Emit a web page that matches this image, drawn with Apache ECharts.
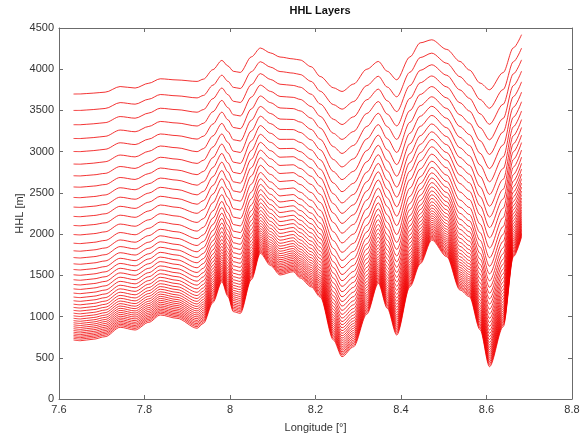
<!DOCTYPE html>
<html>
<head>
<meta charset="utf-8">
<script src="https://cdn.jsdelivr.net/npm/echarts@6/dist/echarts.min.js"></script>
<style>
  html, body { margin: 0; padding: 0; background: #fff; }
  #main { width: 584px; height: 434px; }
</style>
</head>
<body>
<div id="main"></div>
<script>
/* 数据: 经度网格, 地形 (最低层), 最高层, 以及左端各层高度 */
var lon = [7.634, 7.650, 7.680, 7.708, 7.743, 7.778, 7.810, 7.837, 7.876, 7.923,
    7.938, 7.960, 7.981, 7.995, 8.008, 8.024, 8.050, 8.071, 8.095, 8.117,
    8.148, 8.164, 8.190, 8.211, 8.242, 8.262, 8.289, 8.320, 8.347, 8.368,
    8.390, 8.421, 8.445, 8.472, 8.507, 8.538, 8.560, 8.585, 8.607, 8.639,
    8.663, 8.682];
var terrain = [716, 707, 725, 756, 870, 837, 930, 1019, 979, 858,
    918, 1170, 1423, 1245, 1059, 1039, 1448, 1767, 1618, 1504,
    1544, 1468, 1360, 1237, 716, 513, 634, 1030, 1403, 1100,
    776, 1362, 1640, 1929, 1726, 1322, 1241, 840, 392, 877,
    1726, 1969];
var topLayer = [3699, 3700, 3710, 3722, 3790, 3772, 3830, 3884, 3870, 3852,
    3880, 3995, 4107, 4040, 3975, 3961, 4150, 4257, 4197, 4148,
    4125, 4112, 4030, 3912, 3775, 3730, 3820, 4000, 4094, 3975,
    3872, 4150, 4320, 4357, 4240, 4094, 3990, 3832, 3751, 3960,
    4260, 4419];
// 第一个经度处各层的高度 (自下而上)
var levelsLeft = [716, 735, 753, 771, 790, 810, 831, 853, 876, 900,
    925, 951, 979, 1009, 1041, 1075, 1111, 1150, 1192, 1237,
    1285, 1336, 1390, 1447, 1507, 1571, 1640, 1716, 1798, 1890,
    1995, 2105, 2215, 2328, 2445, 2572, 2708, 2850, 3002, 3160,
    3327, 3500, 3699];

var xTicks = [7.6, 8.8, 0.2];
var yTicks = [0, 4500, 500];

var chartDom = document.getElementById('main');
var myChart = echarts.init(chartDom, null, { renderer: 'canvas' });

// 每一层: 在地形和最高层之间按左端高度比例排列
var lo = levelsLeft[0];
var hi = levelsLeft[levelsLeft.length - 1];
var series = levelsLeft.map(function (h) {
    var f = (h - lo) / (hi - lo);
    return {
        type: 'line',
        data: lon.map(function (x, i) {
            return [x, terrain[i] + f * (topLayer[i] - terrain[i])];
        }),
        symbol: 'none',
        smooth: 0.3,
        smoothMonotone: 'x',
        silent: true,
        animation: false,
        lineStyle: { color: '#f00000', width: 0.8 }
    };
});

var axisColor = '#6b6b6b';
var labelStyle = { color: '#333', fontSize: 11, fontFamily: 'Liberation Sans, Arial' };

var option = {
    backgroundColor: '#ffffff',
    animation: false,
    title: {
        text: 'HHL Layers',
        left: 315,
        top: 0,
        textAlign: 'center',
        textStyle: { fontSize: 11, fontWeight: 'bold', color: '#111', fontFamily: 'Liberation Sans, Arial' }
    },
    grid: { left: 59, right: 12, top: 28, bottom: 35, containLabel: false, outerBoundsMode: 'none' },
    xAxis: [{
        type: 'value',
        min: xTicks[0], max: xTicks[1], interval: xTicks[2],
        name: 'Longitude [°]',
        nameLocation: 'middle',
        nameGap: 23,
        nameMoveOverlap: false,
        nameTextStyle: labelStyle,
        axisLine: { onZero: false, lineStyle: { color: axisColor, width: 1 } },
        axisTick: { inside: true, length: 4, lineStyle: { color: axisColor } },
        axisLabel: Object.assign({ margin: 5, formatter: function (v) { return +v.toFixed(1); } }, labelStyle),
        splitLine: { show: false }
    }, {
        type: 'value',
        position: 'top',
        min: xTicks[0], max: xTicks[1], interval: xTicks[2],
        axisLine: { onZero: false, lineStyle: { color: axisColor, width: 1 } },
        axisTick: { inside: true, length: 4, lineStyle: { color: axisColor } },
        axisLabel: { show: false },
        splitLine: { show: false }
    }],
    yAxis: [{
        type: 'value',
        min: yTicks[0], max: yTicks[1], interval: yTicks[2],
        name: 'HHL [m]',
        nameLocation: 'middle',
        nameGap: 34,
        nameMoveOverlap: false,
        nameTextStyle: labelStyle,
        axisLine: { show: true, onZero: false, lineStyle: { color: axisColor, width: 1 } },
        axisTick: { show: true, inside: true, length: 4, lineStyle: { color: axisColor } },
        axisLabel: Object.assign({ margin: 5, formatter: function (v) { return String(v); } }, labelStyle),
        splitLine: { show: false }
    }, {
        type: 'value',
        position: 'right',
        min: yTicks[0], max: yTicks[1], interval: yTicks[2],
        axisLine: { show: true, onZero: false, lineStyle: { color: axisColor, width: 1 } },
        axisTick: { show: true, inside: true, length: 4, lineStyle: { color: axisColor } },
        axisLabel: { show: false },
        splitLine: { show: false }
    }],
    series: series
};

myChart.setOption(option);
</script>
</body>
</html>
